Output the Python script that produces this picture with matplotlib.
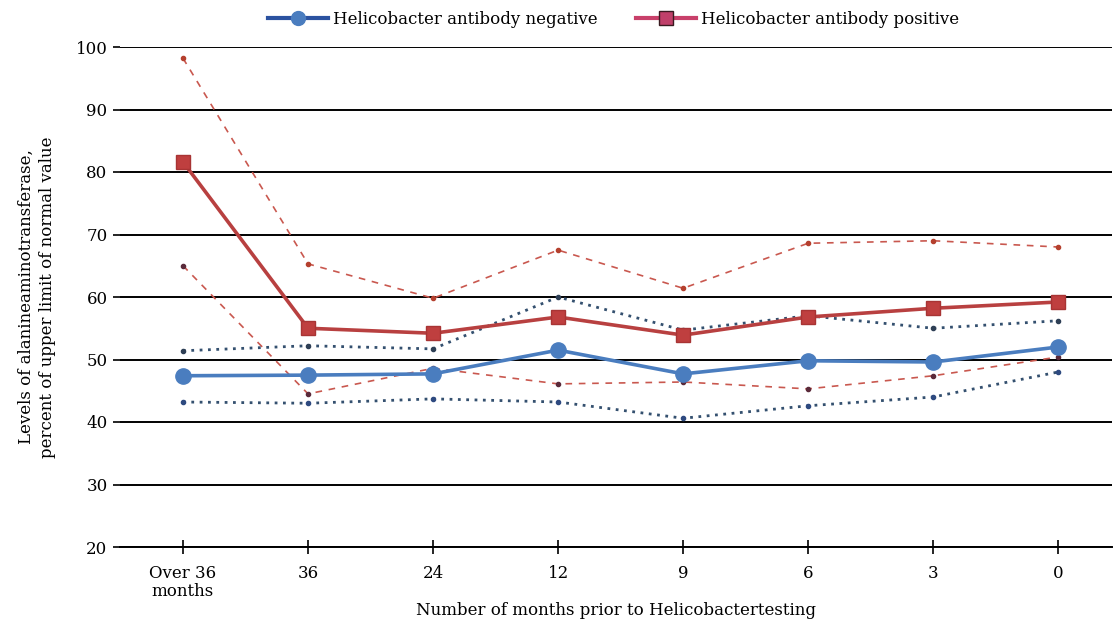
import matplotlib
matplotlib.use("Agg")
import matplotlib.pyplot as plt
from matplotlib.lines import Line2D

# categories (months prior to testing)
categories = ["Over 36\nmonths", "36", "24", "12", "9", "6", "3", "0"]

# antibody negative: mean and interval bounds
neg_mean = [47.4, 47.5, 47.7, 51.5, 47.7, 49.8, 49.6, 52.0]
neg_upper = [51.4, 52.2, 51.7, 60.0, 54.7, 57.0, 55.0, 56.2]
neg_lower = [43.2, 43.0, 43.7, 43.2, 40.6, 42.6, 44.0, 48.0]

# antibody positive: mean and interval bounds
pos_mean = [81.6, 55.0, 54.2, 56.8, 53.9, 56.8, 58.2, 59.2]
pos_upper = [98.2, 65.3, 59.8, 67.5, 61.4, 68.6, 69.0, 68.0]
pos_lower = [65.0, 44.5, 48.6, 46.1, 46.4, 45.3, 47.4, 50.4]

plt.rcParams["font.family"] = "DejaVu Serif"
FS = 12

fig = plt.figure(figsize=(11.14, 6.23), dpi=100)
ax = fig.add_axes([120 / 1114, 76 / 623, 992 / 1114, 500 / 623])

x = list(range(len(categories)))

# interval lines
ax.plot(x, pos_upper, linestyle=(0, (4, 4)), color="#c9584f", lw=1.2,
        marker="o", ms=3, mfc="#b5402e", mec="#b5402e", zorder=3)
ax.plot(x, pos_lower, linestyle=(0, (4, 4)), color="#c9584f", lw=1.2,
        marker="o", ms=3, mfc="#5a2a3a", mec="#5a2a3a", zorder=3)
ax.plot(x, neg_upper, linestyle=(0, (1, 2)), color="#34506f", lw=2.0,
        marker="o", ms=3, mfc="#2e3f55", mec="#2e3f55", zorder=3)
ax.plot(x, neg_lower, linestyle=(0, (1, 2)), color="#34506f", lw=2.0,
        marker="o", ms=3, mfc="#2e4a80", mec="#2e4a80", zorder=3)

# means
ax.plot(x, neg_mean, color="#4a7dbf", lw=2.6, marker="o", ms=11,
        mfc="#4a7dbf", mec="#4a7dbf", zorder=4)
ax.plot(x, pos_mean, color="#b84040", lw=2.6, marker="s", ms=10,
        mfc="#bf3f3f", mec="#a83434", zorder=4)

ax.set_xlim(-0.504, 7.43)
ax.set_ylim(20, 100)
ax.set_yticks(range(20, 101, 10))
ax.set_xticks(x)
ax.set_xticklabels(categories, fontsize=FS, linespacing=1.05)
ax.tick_params(axis="y", labelsize=FS, length=5, width=1.2, direction="out", pad=4)
ax.tick_params(axis="x", length=10, width=1.2, direction="inout", pad=8)

ax.grid(axis="y", color="black", lw=1.4)
ax.set_axisbelow(True)
for s in ["top", "right", "left"]:
    ax.spines[s].set_visible(False)
ax.spines["bottom"].set_linewidth(1.4)

ax.set_ylabel("Levels of alanineaminotransferase,\npercent of upper limit of normal value",
              fontsize=FS, labelpad=14, linespacing=1.35)
ax.set_xlabel("Number of months prior to Helicobactertesting", fontsize=FS, labelpad=2)

handles = [
    Line2D([], [], color="#2b52a0", lw=3, marker="o", ms=10, mfc="#4a7dbf", mec="#4a7dbf"),
    Line2D([], [], color="#c8406a", lw=3, marker="s", ms=10, mfc="#c0406a", mec="#3a1a20"),
]
fig.legend(handles, ["Helicobacter antibody negative", "Helicobacter antibody positive"],
           loc="center", bbox_to_anchor=(614 / 1114, 1 - 19 / 623), ncol=2,
           frameon=False, fontsize=FS, handlelength=3.6, columnspacing=2.3, handletextpad=0.3)

fig.savefig("out.png", dpi=100)
